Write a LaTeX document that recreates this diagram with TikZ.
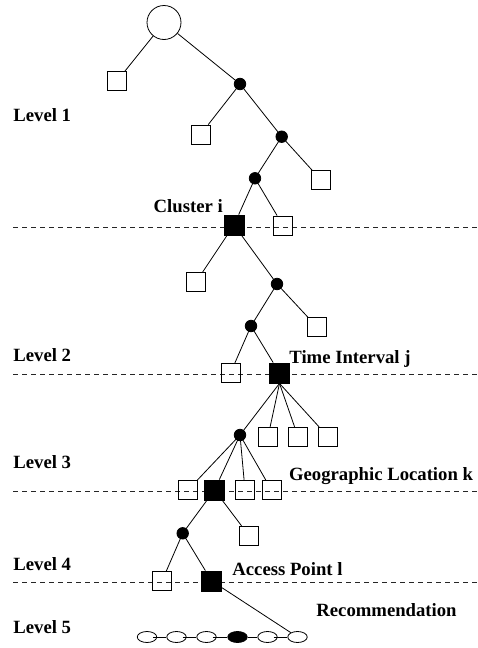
\documentclass[tikz,border=0pt]{standalone}
\usepackage{fontspec}
\setmainfont{Liberation Serif}
\usetikzlibrary{shapes.geometric}
\begin{document}
\begin{tikzpicture}[x=1pt,y=-1pt,
  every path/.style={line width=0.8pt},
  osq/.style={draw,rectangle,minimum size=19pt,inner sep=0pt,line width=0.8pt},
  fsq/.style={draw,fill=black,rectangle,minimum size=20pt,inner sep=0pt},
  dot/.style={draw,fill=black,circle,minimum size=11.5pt,inner sep=0pt},
  oel/.style={draw,ellipse,minimum width=19.5pt,minimum height=11pt,inner sep=0pt,line width=0.8pt},
  fel/.style={oel,fill=black},
  lbl/.style={font=\fontsize{18.7}{20}\selectfont\bfseries,anchor=base west,inner sep=0pt},
  lvl/.style={dash pattern=on 5pt off 4pt,line width=0.8pt,draw=black!85},
  edge/.style={line width=0.8pt}
]
\useasboundingbox (0,0) rectangle (477,648);
% level lines
\coordinate (l1a) at (13,227.7); \coordinate (l1b) at (477,227.7);
\coordinate (l2a) at (13,374); \coordinate (l2b) at (477,374);
\coordinate (l3a) at (13,491); \coordinate (l3b) at (477,491);
\coordinate (l4a) at (13,582.7); \coordinate (l4b) at (477,582.7);
\draw[lvl] (l1a) -- (l1b);
\draw[lvl] (l2a) -- (l2b);
\draw[lvl] (l3a) -- (l3b);
\draw[lvl] (l4a) -- (l4b);
% nodes
\node[draw,circle,minimum size=34pt,inner sep=0pt,line width=0.8pt] (R) at (164,22.5) {};
\node[osq] (s1) at (117,81) {};
\node[dot] (d1) at (240,84) {};
\node[osq] (s2) at (200.5,134.5) {};
\node[dot] (d2) at (281.7,136.7) {};
\node[dot] (d3) at (255,178.3) {};
\node[osq] (s3) at (321,180) {};
\node[fsq] (C) at (234,225) {};
\node[osq] (s4) at (283,225.5) {};
\node[osq] (s5) at (196,282) {};
\node[dot] (d4) at (277,284) {};
\node[dot] (d5) at (251,326) {};
\node[osq] (s6) at (317,327) {};
\node[osq] (s7) at (230.5,373) {};
\node[fsq] (T) at (279.5,373) {};
\node[dot] (d6) at (240,435) {};
\node[osq] (s8) at (268,436.7) {};
\node[osq] (s9) at (298,436.7) {};
\node[osq] (s10) at (328,436.7) {};
\node[osq] (s11) at (188,490) {};
\node[fsq] (G) at (214.5,490) {};
\node[osq] (s12) at (245,490) {};
\node[osq] (s13) at (271.5,490) {};
\node[dot] (d7) at (182.7,533.3) {};
\node[osq] (s14) at (249,535.7) {};
\node[osq] (s15) at (162,581) {};
\node[fsq] (A) at (211.7,581) {};
\node[oel] (e1) at (147,637) {};
\node[oel] (e2) at (176.5,637) {};
\node[oel] (e3) at (206.5,637) {};
\node[fel] (e4) at (237.5,637) {};
\node[oel] (e5) at (267.5,637) {};
\node[oel] (e6) at (297.5,637) {};
% edges
\draw[edge] (R) -- (s1);
\draw[edge] (R) -- (d1.center);
\draw[edge] (d1.center) -- (s2);
\draw[edge] (d1.center) -- (d2.center);
\draw[edge] (d2.center) -- (d3.center);
\draw[edge] (d2.center) -- (s3);
\draw[edge] (d3.center) -- (C);
\draw[edge] (d3.center) -- (s4);
\draw[edge] (C) -- (s5);
\draw[edge] (C) -- (d4.center);
\draw[edge] (d4.center) -- (d5.center);
\draw[edge] (d4.center) -- (s6);
\draw[edge] (d5.center) -- (s7);
\draw[edge] (d5.center) -- (T);
\draw[edge] (T.south) -- (d6.center);
\draw[edge] (T.south) -- (s8);
\draw[edge] (T.south) -- (s9);
\draw[edge] (T.south) -- (s10);
\draw[edge] (d6.center) -- (s11);
\draw[edge] (d6.center) -- (G);
\draw[edge] (d6.center) -- (s12);
\draw[edge] (d6.center) -- (s13);
\draw[edge] (G) -- (d7.center);
\draw[edge] (G) -- (s14);
\draw[edge] (d7.center) -- (s15);
\draw[edge] (d7.center) -- (A);
\draw[edge] (A) -- (e6);
\draw[edge] ([xshift=-4pt]e1.east) -- (e2.west);
\draw[edge] ([xshift=-4pt]e2.east) -- (e3.west);
\draw[edge] ([xshift=-4pt]e3.east) -- (e4.west);
\draw[edge] (e4.east) -- (e5.west);
\draw[edge] ([xshift=-4pt]e5.east) -- (e6.west);
% labels
\node[lbl] (L1) at (13,121.7) {Level 1};
\node[lbl] (Lc) at (153.3,212.3) {Cluster i};
\node[lbl] (L2) at (13,361.7) {Level 2};
\node[lbl] (Lt) at (289,363.3) {Time Interval j};
\node[lbl] (L3) at (13,468) {Level 3};
\node[lbl] (Lg) at (288.7,480) {Geographic Location k};
\node[lbl] (L4) at (13,570) {Level 4};
\node[lbl] (La) at (232,575) {Access Point l};
\node[lbl] (Lr) at (316,616.7) {Recommendation};
\node[lbl] (L5) at (13,633) {Level 5};
\end{tikzpicture}
\end{document}
